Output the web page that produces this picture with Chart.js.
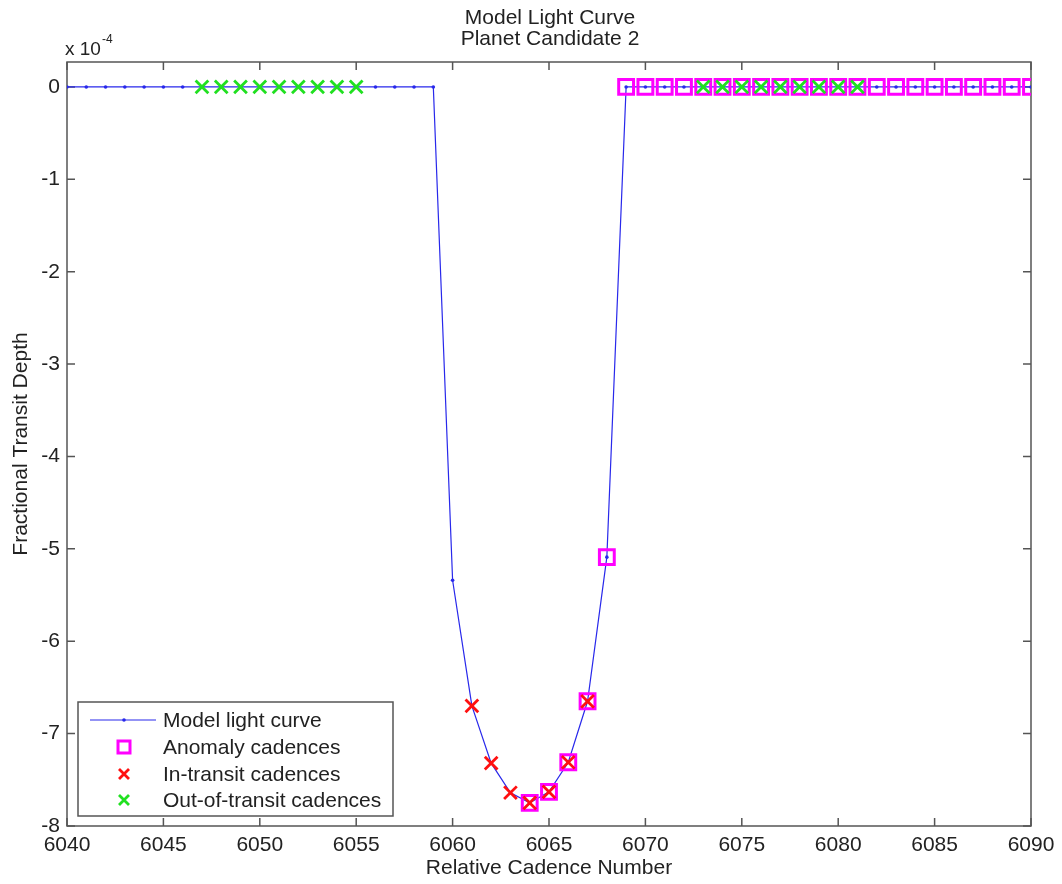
<!DOCTYPE html>
<html>
<head>
<meta charset="utf-8">
<script src="https://cdn.jsdelivr.net/npm/chart.js@4.4.1/dist/chart.umd.min.js"></script>
<style>
  html, body { margin: 0; padding: 0; background: #fff; }
  #wrap { width: 1062px; height: 884px; }
</style>
</head>
<body>
<div id="wrap"><canvas id="chart" width="1062" height="884"></canvas></div>
<script>
// cadence numbers and model transit depth (units of 1e-4)
const cadences = [
  6040, 6041, 6042, 6043, 6044, 6045, 6046, 6047, 6048, 6049,
  6050, 6051, 6052, 6053, 6054, 6055, 6056, 6057, 6058, 6059,
  6060, 6061, 6062, 6063, 6064, 6065, 6066, 6067, 6068, 6069,
  6070, 6071, 6072, 6073, 6074, 6075, 6076, 6077, 6078, 6079,
  6080, 6081, 6082, 6083, 6084, 6085, 6086, 6087, 6088, 6089, 6090
];
const modelDepth = [
  0, 0, 0, 0, 0, 0, 0, 0, 0, 0,
  0, 0, 0, 0, 0, 0, 0, 0, 0, 0,
  -5.34, -6.70, -7.32, -7.64, -7.75, -7.63, -7.31, -6.65, -5.09, 0,
  0, 0, 0, 0, 0, 0, 0, 0, 0, 0,
  0, 0, 0, 0, 0, 0, 0, 0, 0, 0, 0
];
const anomalyCadences = [
  6064, 6065, 6066, 6067, 6068, 6069, 6070, 6071, 6072, 6073, 6074,
  6075, 6076, 6077, 6078, 6079, 6080, 6081, 6082, 6083, 6084, 6085,
  6086, 6087, 6088, 6089, 6090
];
const inTransitCadences = [6061, 6062, 6063, 6064, 6065, 6066, 6067];
const outOfTransitCadences = [
  6047, 6048, 6049, 6050, 6051, 6052, 6053, 6054, 6055,
  6073, 6074, 6075, 6076, 6077, 6078, 6079, 6080, 6081
];
const xTicks = [6040, 6045, 6050, 6055, 6060, 6065, 6070, 6075, 6080, 6085, 6090];
const yTicks = [-8, -7, -6, -5, -4, -3, -2, -1, 0];

const titleLines = ['Model Light Curve', 'Planet Candidate 2'];
const legendLabels = ['Model light curve', 'Anomaly cadences', 'In-transit cadences', 'Out-of-transit cadences'];

const FONT = '"Liberation Sans", Arial, Helvetica, sans-serif';
const TEXT = '#222';
const AXIS = '#555';
const BLUE = 'rgb(40,40,235)';
const MAGENTA = '#ff00ff';
const RED = '#ff1010';
const GREEN = '#20e020';

const pick = list => list.map(c => ({x: c, y: modelDepth[cadences.indexOf(c)]}));

const frame = {
  id: 'frame',
  beforeDatasetsDraw(chart) {
    const {ctx, chartArea: a, scales: {x, y}} = chart;
    ctx.save();
    ctx.strokeStyle = AXIS;
    ctx.lineWidth = 1.5;
    ctx.strokeRect(a.left, a.top, a.right - a.left, a.bottom - a.top);
    ctx.beginPath();
    xTicks.forEach(v => {
      const px = x.getPixelForValue(v);
      ctx.moveTo(px, a.bottom); ctx.lineTo(px, a.bottom - 8);
      ctx.moveTo(px, a.top); ctx.lineTo(px, a.top + 8);
    });
    yTicks.forEach(v => {
      const py = y.getPixelForValue(v);
      ctx.moveTo(a.left, py); ctx.lineTo(a.left + 8, py);
      ctx.moveTo(a.right, py); ctx.lineTo(a.right - 8, py);
    });
    ctx.stroke();

    // title and exponent
    ctx.fillStyle = TEXT;
    ctx.textAlign = 'center';
    ctx.textBaseline = 'alphabetic';
    ctx.font = '21px ' + FONT;
    const cx = (a.left + a.right) / 2 + 1;
    ctx.fillText(titleLines[0], cx, 24);
    ctx.fillText(titleLines[1], cx, 45);
    ctx.textAlign = 'left';
    ctx.font = '19px ' + FONT;
    ctx.fillText('x 10', a.left - 2, 55);
    const w = ctx.measureText('x 10').width;
    ctx.font = '12px ' + FONT;
    ctx.fillText('-4', a.left - 1 + w, 43);
    ctx.restore();
  },
  afterDatasetsDraw(chart) {
    const {ctx} = chart;
    const box = {left: 78, top: 702, right: 393, bottom: 816};
    const rows = [720, 747, 774, 800];
    const mx = 124, tx = 163;
    ctx.save();
    ctx.fillStyle = '#fff';
    ctx.fillRect(box.left, box.top, box.right - box.left, box.bottom - box.top);
    ctx.strokeStyle = AXIS;
    ctx.lineWidth = 1.5;
    ctx.strokeRect(box.left, box.top, box.right - box.left, box.bottom - box.top);

    // model line sample
    ctx.strokeStyle = BLUE;
    ctx.lineWidth = 1.2;
    ctx.beginPath(); ctx.moveTo(90, rows[0]); ctx.lineTo(156, rows[0]); ctx.stroke();
    ctx.fillStyle = BLUE;
    ctx.beginPath(); ctx.arc(mx, rows[0], 1.8, 0, Math.PI * 2); ctx.fill();
    // square
    ctx.strokeStyle = MAGENTA; ctx.lineWidth = 3;
    ctx.strokeRect(mx - 6, rows[1] - 6, 12, 12);
    // crosses
    [[RED, rows[2]], [GREEN, rows[3]]].forEach(([c, yy]) => {
      ctx.strokeStyle = c; ctx.lineWidth = 2.8;
      ctx.beginPath();
      ctx.moveTo(mx - 5, yy - 5); ctx.lineTo(mx + 5, yy + 5);
      ctx.moveTo(mx + 5, yy - 5); ctx.lineTo(mx - 5, yy + 5);
      ctx.stroke();
    });

    ctx.fillStyle = TEXT;
    ctx.font = '21px ' + FONT;
    ctx.textAlign = 'left';
    ctx.textBaseline = 'middle';
    legendLabels.forEach((t, i) => ctx.fillText(t, tx, rows[i] + 1));
    ctx.restore();
  }
};

new Chart(document.getElementById('chart'), {
  type: 'scatter',
  data: {
    datasets: [
      {
        label: legendLabels[0],
        data: cadences.map((c, i) => ({x: c, y: modelDepth[i]})),
        showLine: true,
        borderColor: BLUE,
        backgroundColor: BLUE,
        borderWidth: 1.2,
        pointRadius: 1.8,
        pointBorderWidth: 0,
        order: 4
      },
      {
        label: legendLabels[1],
        data: pick(anomalyCadences),
        pointStyle: 'rect',
        pointRadius: 10.5,
        borderColor: MAGENTA,
        backgroundColor: 'rgba(0,0,0,0)',
        pointBorderWidth: 3,
        order: 3
      },
      {
        label: legendLabels[2],
        data: pick(inTransitCadences),
        pointStyle: 'crossRot',
        pointRadius: 9,
        borderColor: RED,
        pointBorderWidth: 2.8,
        order: 2
      },
      {
        label: legendLabels[3],
        data: pick(outOfTransitCadences),
        pointStyle: 'crossRot',
        pointRadius: 9,
        borderColor: GREEN,
        pointBorderWidth: 2.8,
        order: 1
      }
    ]
  },
  options: {
    responsive: false,
    animation: false,
    events: [],
    layout: {padding: {left: 0, right: 31, top: 62, bottom: 0}},
    plugins: {legend: {display: false}, tooltip: {enabled: false}, title: {display: false}},
    scales: {
      x: {
        type: 'linear',
        min: 6040,
        max: 6090,
        afterBuildTicks: s => { s.ticks = xTicks.map(v => ({value: v})); },
        afterFit: s => { s.height = 58; },
        grid: {display: false, drawTicks: false},
        border: {display: false},
        ticks: {color: TEXT, font: {family: FONT, size: 21}, padding: 7, maxRotation: 0, autoSkip: false,
                callback: v => String(v)},
        title: {display: true, text: 'Relative Cadence Number', color: TEXT,
                font: {family: FONT, size: 21}, padding: {top: 0, bottom: 3}}
      },
      y: {
        type: 'linear',
        min: -8,
        max: 0.27,
        afterBuildTicks: s => { s.ticks = yTicks.map(v => ({value: v})); },
        afterFit: s => { s.width = 67; },
        grid: {display: false, drawTicks: false},
        border: {display: false},
        ticks: {color: TEXT, font: {family: FONT, size: 21}, padding: 7, autoSkip: false,
                callback: v => String(v)},
        title: {display: true, text: 'Fractional Transit Depth', color: TEXT,
                font: {family: FONT, size: 21}, padding: {top: 9, bottom: 0}}
      }
    }
  },
  plugins: [frame]
});
</script>
</body>
</html>
